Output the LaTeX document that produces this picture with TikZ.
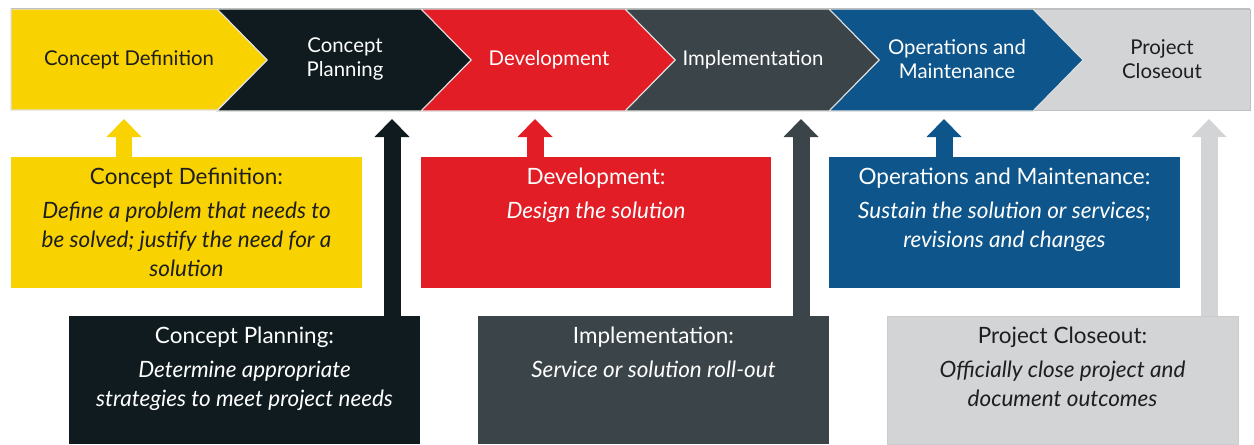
\documentclass[tikz,border=0pt]{standalone}
\usepackage{fontspec}
\setmainfont{Lato}
\usetikzlibrary{arrows.meta,positioning}
\definecolor{cdyellow}{HTML}{F9D202}
\definecolor{cpblack}{HTML}{0F1B1F}
\definecolor{devred}{HTML}{E21D25}
\definecolor{impgray}{HTML}{3B4448}
\definecolor{omblue}{HTML}{0D558A}
\definecolor{pcgray}{HTML}{D2D4D5}
\definecolor{inkdark}{HTML}{1E1E1E}
\def\chevron[#1](#2){\filldraw[#1, draw=white!88!black, line width=0.6pt] (#2, 9) -- ++(204, 0) -- ++(50, 51) -- ++(-50, 51) -- ++(-204, 0) -- ++(50, -51) -- cycle;}
\tikzset{
	steptext/.style={align=center, font=\fontsize{11.6}{13.5}\selectfont, inner sep=0pt},
	box/.style={minimum width=7.02cm, minimum height=2.62cm, inner sep=0pt, outer sep=0pt},
	lowbox/.style={box, minimum height=2.56cm},
	boxtext/.style={align=center, font=\fontsize{12.8}{16.5}\selectfont, inner sep=0pt},
	uparrow/.style={line width=0.34cm, -{Triangle[width=0.7cm, length=0.36cm, line width=0pt]}}
}

\begin{document}
\begin{tikzpicture}[x=0.02cm, y=-0.02cm]
			%%%%% START %%%%%
			\useasboundingbox (0, 0) rectangle (1254, 444);
			
			% banner
			\draw[fill=pcgray, draw=black!25] (1033, 9) rectangle (1250, 110);
			\chevron[fill=omblue](829)
			\chevron[fill=impgray](625)
			\chevron[fill=devred](421)
			\chevron[fill=cpblack](217)
			\filldraw[fill=cdyellow, draw=white!88!black, line width=0.6pt] (11, 9) -- (217, 9) -- (267, 60) -- (217, 110) -- (11, 110) -- cycle;
			\draw[black!25] (11, 8.5) -- (1250, 8.5);
			
			\node[steptext, text=inkdark] (cdstep) at (129, 60) {Concept Definition};
			\node[steptext, text=white] (cpstep) at (345, 59) {Concept\\Planning};
			\node[steptext, text=white] (devstep) at (549, 60) {Development};
			\node[steptext, text=white] (impstep) at (753, 60) {Implementation};
			\node[steptext, text=white] (omstep) at (957, 59) {Operations and\\Maintenance};
			\node[steptext, text=inkdark] (pcstep) at (1162, 59) {Project\\Closeout};
			
			% boxes
			\node[box, fill=cdyellow] (cdbox) at (186.5, 222.5) {};
			\node[box, fill=devred] (devbox) at (596, 222.5) {};
			\node[box, fill=omblue] (ombox) at (1004.5, 222.5) {};
			\node[lowbox, fill=cpblack] (cpbox) at (244.5, 380) {};
			\node[lowbox, fill=impgray] (impbox) at (653.5, 380) {};
			\node[lowbox, fill=pcgray, draw=black!20] (pcbox) at (1062.5, 380) {};
			
			\node[boxtext, text=inkdark, below=0.22cm of cdbox.north] (cdtext) {Concept Definition:\\[2.5pt] \textit{Define a problem that needs to}\\ \textit{be solved; justify the need for a}\\ \textit{solution}};
			\node[boxtext, text=white, below=0.22cm of devbox.north] (devtext) {Development:\\[2.5pt] \textit{Design the solution}};
			\node[boxtext, text=white, below=0.22cm of ombox.north] (omtext) {Operations and Maintenance:\\[2.5pt] \textit{Sustain the solution or services;}\\ \textit{revisions and changes}};
			\node[boxtext, text=white, below=0.22cm of cpbox.north] (cptext) {Concept Planning:\\[2.5pt] \textit{Determine appropriate}\\ \textit{strategies to meet project needs}};
			\node[boxtext, text=white, below=0.22cm of impbox.north] (imptext) {Implementation:\\[2.5pt] \textit{Service or solution roll-out}};
			\node[boxtext, text=inkdark, below=0.22cm of pcbox.north] (pctext) {Project Closeout:\\[2.5pt] \textit{Officially close project and}\\ \textit{document outcomes}};
			
			% arrows
			\coordinate (cdtip) at (124, 119);
			\coordinate (cptip) at (392, 119);
			\coordinate (devtip) at (535, 119);
			\coordinate (imptip) at (801, 119);
			\coordinate (omtip) at (944, 119);
			\coordinate (pctip) at (1209, 119);
			
			\draw[uparrow, cdyellow] (cdbox.north -| cdtip) -- (cdtip);
			\draw[uparrow, cpblack] (cpbox.north -| cptip) -- (cptip);
			\draw[uparrow, devred] (devbox.north -| devtip) -- (devtip);
			\draw[uparrow, impgray] (impbox.north -| imptip) -- (imptip);
			\draw[uparrow, omblue] (ombox.north -| omtip) -- (omtip);
			\draw[uparrow, pcgray] (pcbox.north -| pctip) -- (pctip);
			%%%%% END %%%%%
\end{tikzpicture}
\end{document}
